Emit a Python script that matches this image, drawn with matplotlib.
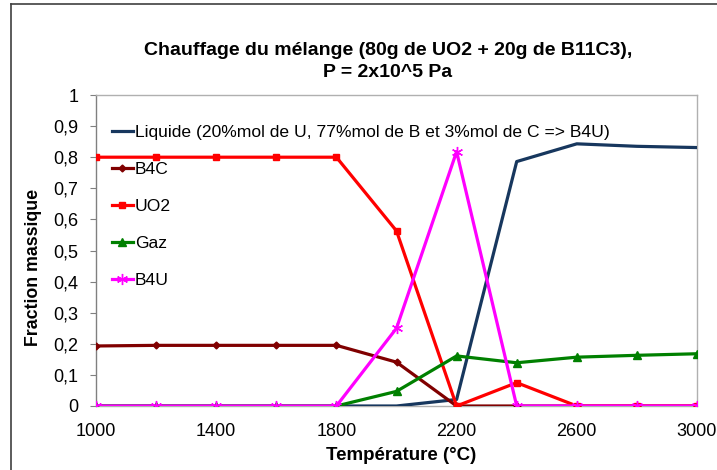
'''
Chauffage du melange UO2 + B11C3 : fractions massiques en fonction de la temperature
'''
import matplotlib
matplotlib.use("Agg")
import matplotlib.pyplot as plt
from matplotlib.lines import Line2D

plt.rcParams['font.family'] = ['Liberation Sans', 'DejaVu Sans']

# Data
temperature = [1000, 1200, 1400, 1600, 1800, 2000, 2200, 2400, 2600, 2800, 3000]
liquide = [0, 0, 0, 0, 0, 0, 0.021, 0.786, 0.843, 0.835, 0.831]
b4c = [0.193, 0.195, 0.195, 0.195, 0.195, 0.141, 0, 0, 0, 0, 0]
uo2 = [0.8, 0.8, 0.8, 0.8, 0.8, 0.563, 0, 0.075, 0, 0, 0]
gaz = [0, 0, 0, 0, 0, 0.047, 0.161, 0.139, 0.157, 0.163, 0.168]
b4u = [0, 0, 0, 0, 0, 0.25, 0.818, 0, 0, 0, 0]

labels = ["Liquide (20%mol de U, 77%mol de B et 3%mol de C => B4U)",
          "B4C", "UO2", "Gaz", "B4U"]
xticks = [1000, 1400, 1800, 2200, 2600, 3000]
yticks = [0, 0.1, 0.2, 0.3, 0.4, 0.5, 0.6, 0.7, 0.8, 0.9, 1]


def main():
    W, H = 717, 470
    fig = plt.figure(figsize=(W / 100, H / 100), dpi=100)
    ax = fig.add_axes([96 / W, 1 - 406 / H, (697 - 96) / W, (406 - 95) / H])

    # frame of the chart (only left and top are visible in the crop)
    fig.add_artist(Line2D([11 / W, 11 / W], [0, 1 - 4 / H], color='#404040', lw=1.2))
    fig.add_artist(Line2D([11 / W, 1], [1 - 4 / H, 1 - 4 / H], color='#404040', lw=1.2))

    lw = 2.3
    ax.plot(temperature, liquide, '-', color='#17375E', lw=lw, label=labels[0], zorder=3)
    ax.plot(temperature, b4c, '-', color='#800000', lw=lw, marker='D', ms=3.5, label=labels[1], zorder=4)
    ax.plot(temperature, uo2, '-', color='#FF0000', lw=lw, marker='s', ms=4.5, label=labels[2], zorder=5)
    ax.plot(temperature, gaz, '-', color='#008000', lw=lw, marker='^', ms=5.5, label=labels[3], zorder=6)
    ax.plot(temperature, b4u, '-', color='#FF00FF', lw=lw, marker=(6, 2, 0), ms=8, mew=1,
            label=labels[4], zorder=7)

    ax.set_xlim(1000, 3000)
    ax.set_ylim(0, 1)
    ax.set_xticks(xticks)
    ax.set_yticks(yticks)
    ax.set_yticklabels([("%g" % v).replace('.', ',') for v in yticks])
    ax.tick_params(axis='y', direction='out', length=4.3, color='#808080', labelsize=13, pad=8.5)
    ax.tick_params(axis='x', length=0, labelsize=13, pad=12)
    for s in ax.spines.values():
        s.set_color('#B0B0B0')
        s.set_linewidth(1)
    ax.spines['left'].set_color('#808080')

    ax.set_xlabel("Température (°C)", fontsize=13.5, fontweight='bold', va='center', ha='center')
    ax.xaxis.set_label_coords(0.508, -0.1576)
    ax.set_ylabel("Fraction massique", fontsize=12.8, fontweight='bold', va='center', ha='center')
    ax.yaxis.set_label_coords(-0.1048, 0.444)

    # title, two lines placed on their baselines
    fig.text(388 / W, 1 - 55 / H, "Chauffage du mélange (80g de UO2 + 20g de B11C3),",
             ha='center', va='baseline', fontsize=14, fontweight='bold')
    fig.text(388 / W, 1 - 76.7 / H, "P = 2x10^5 Pa",
             ha='center', va='baseline', fontsize=14, fontweight='bold')

    ax.legend(loc='upper left', bbox_to_anchor=(0.006, 0.944), frameon=False, fontsize=12.6,
              handlelength=1.2, handletextpad=0.12, labelspacing=1.24, borderaxespad=0.3,
              numpoints=1)

    fig.savefig("out.png", dpi=100)


if __name__ == "__main__":
    main()
